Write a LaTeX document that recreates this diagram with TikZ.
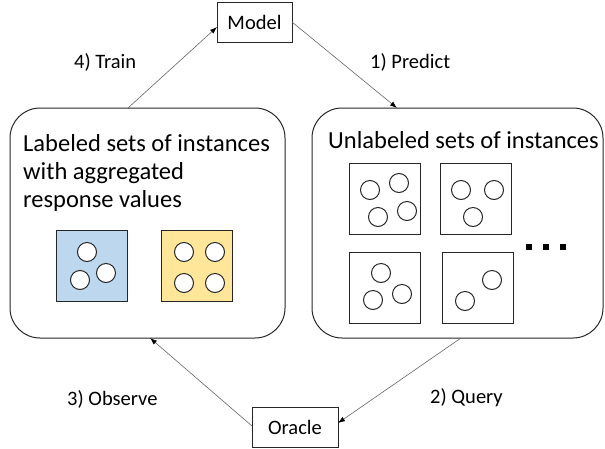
\documentclass[tikz,border=0pt]{standalone}
\usepackage{fontspec}
\setmainfont{Carlito}
\usetikzlibrary{arrows.meta}
\definecolor{lblue}{HTML}{BDD7EE}
\definecolor{lyellow}{HTML}{FFE699}
\definecolor{edge}{HTML}{262626}
\begin{document}
\begin{tikzpicture}[x=1pt,y=-1pt,
  bigbox/.style={draw=edge,line width=1pt,rounded corners=30pt},
  plainbox/.style={draw=edge,line width=1pt,fill=white},
  setbox/.style={draw=edge,line width=1pt},
  inst/.style={draw=edge,line width=1pt,fill=white,circle,minimum size=19pt,inner sep=0pt},
  conn/.style={draw=black!60,line width=0.6pt,-{Latex[length=7pt,width=5pt,color=black]}},
  lbl/.style={font=\fontsize{20.5pt}{24pt}\selectfont,anchor=base west,inner sep=0pt},
  boxtxt/.style={font=\fontsize{24.5pt}{28pt}\selectfont,anchor=base west,inner sep=0pt},
  dotsq/.style={fill=black,minimum size=6pt,inner sep=0pt}]
\useasboundingbox (0,0) rectangle (605,448);
% model and oracle
\node[plainbox,minimum width=75pt,minimum height=40pt,inner sep=0pt,font=\fontsize{20.5pt}{24pt}\selectfont] (model) at (254.5,22) {Model};
\node[plainbox,minimum width=86pt,minimum height=40pt,inner sep=0pt,font=\fontsize{20.5pt}{24pt}\selectfont] (oracle) at (295,427) {Oracle};
% big boxes
\node[bigbox,minimum width=275pt,minimum height=230pt,inner sep=0pt] (left) at (147.5,223) {};
\node[bigbox,minimum width=291pt,minimum height=230pt,inner sep=0pt] (right) at (457.5,223) {};
% left text
\node[boxtxt] (lt1) at (23,151) {Labeled sets of instances};
\node[boxtxt] (lt2) at (23,179) {with aggregated};
\node[boxtxt] (lt3) at (23,207) {response values};
\node[boxtxt] (rt) at (328,148) {Unlabeled sets of instances};
% labeled sets
\node[setbox,fill=lblue,minimum size=71pt,inner sep=0pt] (lb) at (91.5,266) {};
\node[setbox,fill=lyellow,minimum size=71pt,inner sep=0pt] (ly) at (196.5,266) {};
\node[inst] (lb1) at (87,252) {};
\node[inst] (lb2) at (80,280) {};
\node[inst] (lb3) at (106,273) {};
\node[inst] (ly1) at (184,252) {};
\node[inst] (ly2) at (215,252) {};
\node[inst] (ly3) at (184,283) {};
\node[inst] (ly4) at (215,283) {};
% unlabeled sets
\node[setbox,minimum size=71pt,inner sep=0pt] (s1) at (384.5,199) {};
\node[setbox,minimum size=71pt,inner sep=0pt] (s2) at (475.5,199) {};
\node[setbox,minimum size=71pt,inner sep=0pt] (s3) at (385,287.5) {};
\node[setbox,minimum size=71pt,inner sep=0pt] (s4) at (477.5,287.5) {};
\node[inst] (a1) at (370,190) {};
\node[inst] (a2) at (399,183) {};
\node[inst] (a3) at (378,217) {};
\node[inst] (a4) at (407,211) {};
\node[inst] (b1) at (461,190) {};
\node[inst] (b2) at (494,190) {};
\node[inst] (b3) at (473,217) {};
\node[inst] (c1) at (381,273) {};
\node[inst] (c2) at (373,300) {};
\node[inst] (c3) at (402,294) {};
\node[inst] (d1) at (492,280) {};
\node[inst] (d2) at (465,301) {};
\node[dotsq] (dot1) at (529,247) {};
\node[dotsq] (dot2) at (546,247) {};
\node[dotsq] (dot3) at (563,247) {};
% connector endpoints
\coordinate (trainS) at (128,108);
\coordinate (trainE) at (217,27);
\coordinate (predS) at (292,22);
\coordinate (predE) at (397,108);
\coordinate (queryS) at (461,338);
\coordinate (queryE) at (338,423);
\coordinate (obsS) at (252,426);
\coordinate (obsE) at (150,338);
\draw[conn] (trainS) -- (trainE);
\draw[conn] (predS) -- (predE);
\draw[conn] (queryS) -- (queryE);
\draw[conn] (obsS) -- (obsE);
% labels
\node[lbl] (train) at (74,68) {4) Train};
\node[lbl] (predict) at (370,68) {1) Predict};
\node[lbl] (query) at (430,403) {2) Query};
\node[lbl] (observe) at (67,405) {3) Observe};
\end{tikzpicture}
\end{document}
